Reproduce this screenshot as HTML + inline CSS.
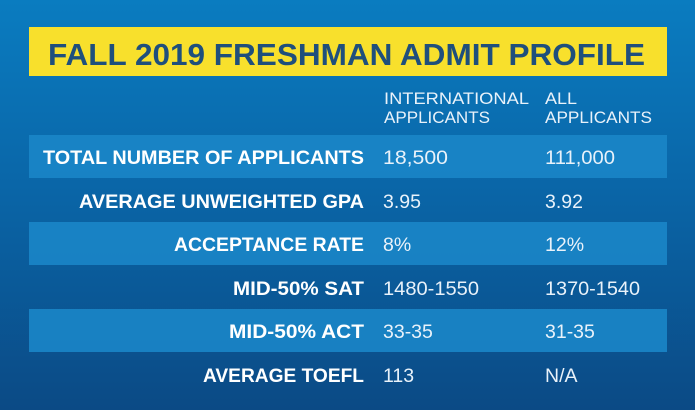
<!DOCTYPE html>
<html><head><meta charset="utf-8"><style>
html,body{margin:0;padding:0;}
body{width:695px;height:410px;overflow:hidden;}
</style></head><body>
<svg width="695" height="410" xmlns="http://www.w3.org/2000/svg" font-family="Liberation Sans, sans-serif">
<defs>
<linearGradient id="bg" x1="0" y1="0" x2="0" y2="1">
<stop offset="0" stop-color="#0a7cc0"/>
<stop offset="0.45" stop-color="#0a66a8"/>
<stop offset="1" stop-color="#0b4a85"/>
</linearGradient>
</defs>
<rect width="695" height="410" fill="url(#bg)"/>
<rect x="29" y="27" width="638" height="49" fill="#f8e02c"/>
<text x="48" y="65" font-size="31" font-weight="bold" fill="#1f4f7c" textLength="597" lengthAdjust="spacingAndGlyphs">FALL 2019 FRESHMAN ADMIT PROFILE</text>
<g fill="#e9f2fa" font-size="17">
<text x="384" y="104" textLength="145" lengthAdjust="spacingAndGlyphs">INTERNATIONAL</text>
<text x="384" y="123" textLength="106" lengthAdjust="spacingAndGlyphs">APPLICANTS</text>
<text x="545" y="104" textLength="32" lengthAdjust="spacingAndGlyphs">ALL</text>
<text x="545" y="123" textLength="107" lengthAdjust="spacingAndGlyphs">APPLICANTS</text>
</g>
<g fill="#1a86c8" opacity="0.9">
<rect x="29" y="135" width="638" height="43"/>
<rect x="29" y="222" width="638" height="43"/>
<rect x="29" y="309" width="638" height="43"/>
</g>
<g fill="#ffffff" font-size="19.5" font-weight="bold" text-anchor="end" lengthAdjust="spacingAndGlyphs">
<text x="364" y="164" textLength="321" lengthAdjust="spacingAndGlyphs">TOTAL NUMBER OF APPLICANTS</text>
<text x="364" y="208" textLength="285" lengthAdjust="spacingAndGlyphs">AVERAGE UNWEIGHTED GPA</text>
<text x="364" y="251" textLength="190" lengthAdjust="spacingAndGlyphs">ACCEPTANCE RATE</text>
<text x="364" y="295" textLength="131" lengthAdjust="spacingAndGlyphs">MID-50% SAT</text>
<text x="364" y="338" textLength="135" lengthAdjust="spacingAndGlyphs">MID-50% ACT</text>
<text x="364" y="382" textLength="161" lengthAdjust="spacingAndGlyphs">AVERAGE TOEFL</text>
</g>
<g fill="#e9f2fa" font-size="19.5">
<text x="383" y="164" textLength="65" lengthAdjust="spacingAndGlyphs">18,500</text><text x="545" y="164" textLength="70" lengthAdjust="spacingAndGlyphs">111,000</text>
<text x="383" y="208">3.95</text><text x="545" y="208">3.92</text>
<text x="383" y="251">8%</text><text x="545" y="251">12%</text>
<text x="383" y="295" textLength="96" lengthAdjust="spacingAndGlyphs">1480-1550</text><text x="545" y="295" textLength="95" lengthAdjust="spacingAndGlyphs">1370-1540</text>
<text x="383" y="338">33-35</text><text x="545" y="338">31-35</text>
<text x="383" y="382">113</text><text x="545" y="382">N/A</text>
</g>
</svg>
</body></html>
